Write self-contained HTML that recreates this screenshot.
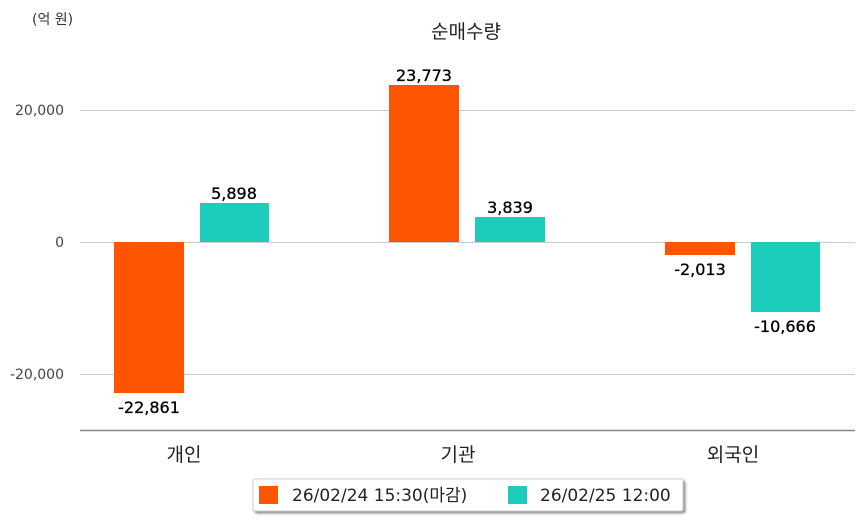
<!DOCTYPE html>
<html><head><meta charset="utf-8"><style>
html,body{margin:0;padding:0;background:#fff;}
svg{display:block;font-family:"DejaVu Sans","Noto Sans CJK KR",sans-serif;}
</style></head><body>
<svg width="863" height="520" viewBox="0 0 863 520">
<defs><filter id="sh" x="-5%" y="-20%" width="115%" height="160%"><feDropShadow dx="2" dy="2" stdDeviation="1.2" flood-color="#000" flood-opacity="0.45"/></filter></defs>
<text x="32" y="24" font-size="14" fill="#333">(억 원)</text>
<text x="466" y="38" font-size="19" text-anchor="middle" fill="#222">순매수량</text>
<g stroke="#ccc" stroke-width="1">
<line x1="80" y1="110.5" x2="855" y2="110.5"/>
<line x1="80" y1="242.5" x2="855" y2="242.5"/>
<line x1="80" y1="374.5" x2="855" y2="374.5"/>
</g>
<line x1="80" y1="430.5" x2="855" y2="430.5" stroke="#888" stroke-width="1.5"/>
<g font-size="14" fill="#444" text-anchor="end">
<text x="64" y="115">20,000</text>
<text x="64" y="247">0</text>
<text x="64" y="379">-20,000</text>
</g>
<rect x="114" y="242" width="70" height="151" fill="#ff5500"/>
<rect x="200" y="203" width="69" height="39" fill="#1dcdbc"/>
<rect x="389" y="85" width="70" height="157" fill="#ff5500"/>
<rect x="475" y="217" width="70" height="25" fill="#1dcdbc"/>
<rect x="665" y="242" width="70" height="13" fill="#ff5500"/>
<rect x="751" y="242" width="69" height="70" fill="#1dcdbc"/>
<g font-size="16" fill="#000" text-anchor="middle" stroke="#000" stroke-width="0.3">
<text x="149" y="413">-22,861</text>
<text x="234" y="199">5,898</text>
<text x="424" y="81">23,773</text>
<text x="510" y="213">3,839</text>
<text x="700" y="275">-2,013</text>
<text x="785" y="332">-10,666</text>
</g>
<g font-size="19" fill="#222" text-anchor="middle">
<text x="184" y="461">개인</text>
<text x="458" y="461">기관</text>
<text x="733" y="461">외국인</text>
</g>
<rect x="253" y="479" width="430" height="32" rx="2" fill="#fff" stroke="#ccc" filter="url(#sh)"/>
<rect x="259" y="486" width="19" height="18" fill="#ff5500"/>
<text x="292" y="501" font-size="17" fill="#222">26/02/24 15:30(마감)</text>
<rect x="508" y="486" width="19" height="18" fill="#1dcdbc"/>
<text x="540" y="501" font-size="17" fill="#222">26/02/25 12:00</text>
</svg>
</body></html>
